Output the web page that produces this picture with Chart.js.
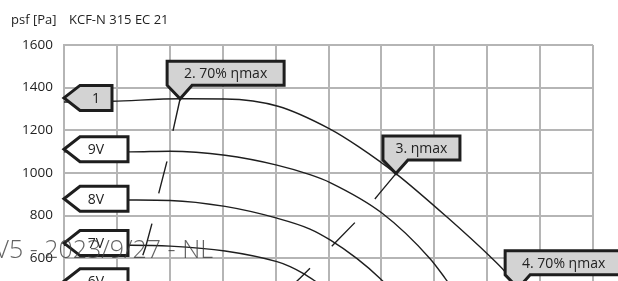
<!DOCTYPE html>
<html><head><meta charset="utf-8">
<style>html,body{margin:0;padding:0;overflow:hidden;background:#fff;width:618px;height:281px}canvas{display:block}</style>
<script src="https://cdn.jsdelivr.net/npm/chart.js@4.4.0/dist/chart.umd.min.js"></script>
</head><body>
<canvas id="c" width="618" height="320"></canvas>
<script>
// ---- data ----
const yAxisUnit = 'psf [Pa]';
const modelName = 'KCF-N 315 EC 21';
const watermark = 'V5 - 2023/9/27 - NL';
const yTicks = [400, 600, 800, 1000, 1200, 1400, 1600];
const xTicks = [0, 200, 400, 600, 800, 1000, 1200, 1400, 1600, 1800, 2000];

const curveNames = ['1', '9V', '8V', '7V', '6V'];
const curveLabelP = [1352, 1111, 879, 671, 492];
const curve_1  = [[0,1333],[181,1336],[439,1348],[609,1347],[809,1313],[1006,1206],[1112,1125],[1255,997],[1448,793],[1611,608],[1667,538],[1717,459],[1800,320]];
const curve_9V = [[0,1099],[250,1099],[401,1102],[609,1083],[805,1037],[930,992],[1006,955],[1202,812],[1384,598],[1441,506],[1497,408]];
const curve_8V = [[0,874],[250,873],[401,871],[609,843],[805,788],[930,737],[1006,686],[1108,598],[1195,505],[1270,408]];
const curve_7V = [[0,661],[250,661],[401,657],[609,634],[805,584],[855,561],[904,529],[968,478],[1044,417]];
const curve_6V = [[0,478],[250,478],[401,473],[609,450],[700,420],[800,370]];

const effNames = ['2. 70% ηmax', '3. ηmax', '4. 70% ηmax'];
const eff_70a = [[439,1348],[412,1197],[389,1053],[359,909],[333,765],[308,650],[280,550],[240,400]];
const eff_max = [[1255,997],[1188,897],[1113,784],[1028,676],[943,569],[892,506],[850,457],[800,405]];
const eff_70b = [[1717,459],[1650,425],[1600,400]];

// ---- styles ----
const INK = '#1e1e1e';
const GRID = '#b5b5b5';
const FONT = '"Open Sans", "Noto Sans", sans-serif';
const pentW = [48, 64, 64, 64, 64];
const calloutW = [117, 77, 117];

const toXY = a => a.map(([x, y]) => ({x, y}));
const curveSets = [curve_1, curve_9V, curve_8V, curve_7V, curve_6V];
const effSets = [eff_70a, eff_max, eff_70b];

const datasets = [
  ...curveSets.map((c, i) => ({
    label: curveNames[i], data: toXY(c), borderColor: INK, borderWidth: 1.4,
    pointRadius: 0, cubicInterpolationMode: 'monotone', fill: false
  })),
  ...effSets.map((c, i) => ({
    label: effNames[i], data: toXY(c), borderColor: INK, borderWidth: 1.4,
    borderDash: [33, 31], pointRadius: 0, tension: 0, fill: false
  }))
];

const annot = {
  id: 'annot',
  afterDatasetsDraw(chart) {
    const {ctx, scales: {x, y}} = chart;
    ctx.save();
    ctx.lineJoin = 'miter';
    // curve labels (pentagons)
    curveNames.forEach((name, i) => {
      const py = y.getPixelForValue(curveLabelP[i]);
      const tx = x.getPixelForValue(0);
      const w = pentW[i], h = 25;
      ctx.beginPath();
      ctx.moveTo(tx, py);
      ctx.lineTo(tx + 16, py - h / 2);
      ctx.lineTo(tx + w, py - h / 2);
      ctx.lineTo(tx + w, py + h / 2);
      ctx.lineTo(tx + 16, py + h / 2);
      ctx.closePath();
      ctx.fillStyle = i === 0 ? '#d3d3d3' : '#ffffff';
      ctx.fill();
      ctx.lineWidth = 3; ctx.strokeStyle = INK; ctx.stroke();
      ctx.fillStyle = '#222'; ctx.font = '14px ' + FONT;
      ctx.textAlign = 'center'; ctx.textBaseline = 'middle';
      ctx.fillText(name, tx + 32, py + 1);
    });
    // efficiency callouts
    effSets.forEach((c, i) => {
      const ax = x.getPixelForValue(c[0][0]);
      const ay = y.getPixelForValue(c[0][1]);
      const left = ax - 13, bottom = ay - 13.5, top = bottom - 24, right = left + calloutW[i];
      ctx.beginPath();
      ctx.moveTo(left, top);
      ctx.lineTo(right, top);
      ctx.lineTo(right, bottom);
      ctx.lineTo(left + 25, bottom);
      ctx.lineTo(ax, ay);
      ctx.lineTo(left, bottom);
      ctx.closePath();
      ctx.fillStyle = '#d3d3d3'; ctx.fill();
      ctx.lineWidth = 3; ctx.strokeStyle = INK; ctx.stroke();
      ctx.fillStyle = '#222'; ctx.font = '14px ' + FONT;
      ctx.textAlign = 'center'; ctx.textBaseline = 'middle';
      ctx.fillText(effNames[i], (left + right) / 2, (top + bottom) / 2 + 1);
    });
    ctx.restore();
  },
  afterDraw(chart) {
    const {ctx} = chart;
    ctx.save();
    ctx.fillStyle = '#222'; ctx.font = '13px ' + FONT;
    ctx.textAlign = 'left'; ctx.textBaseline = 'alphabetic';
    ctx.fillText(yAxisUnit, 11, 24);
    ctx.fillText(modelName, 69, 24);
    ctx.fillStyle = 'rgba(60,60,60,0.8)'; ctx.font = '300 25px ' + FONT;
    ctx.textAlign = 'right';
    ctx.fillText(watermark, 213, 257.5);
    ctx.restore();
  }
};

new Chart(document.getElementById('c'), {
  type: 'line',
  data: {datasets},
  plugins: [annot],
  options: {
    responsive: false, animation: false,
    layout: {padding: {top: 45, right: 25, bottom: 16.25, left: 0}},
    plugins: {legend: {display: false}, tooltip: {enabled: false}},
    scales: {
      x: {
        type: 'linear', min: xTicks[0], max: xTicks[xTicks.length - 1],
        afterBuildTicks: s => { s.ticks = xTicks.map(v => ({value: v})); },
        ticks: {display: false},
        grid: {color: GRID, lineWidth: 2, drawTicks: false},
        border: {display: true, color: GRID, width: 2},
        afterFit: s => { s.height = 0; }
      },
      y: {
        type: 'linear', min: yTicks[0], max: yTicks[yTicks.length - 1],
        afterBuildTicks: s => { s.ticks = yTicks.map(v => ({value: v})); },
        ticks: {padding: 11, color: '#222', font: {family: FONT, size: 13.5}, callback: v => String(v)},
        grid: {color: GRID, lineWidth: 2, drawTicks: false},
        border: {display: true, color: GRID, width: 2},
        afterFit: s => { s.width = 64; }
      }
    }
  }
});
</script>
</body></html>
